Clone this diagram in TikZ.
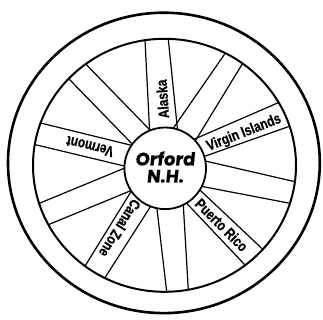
\documentclass[tikz,border=0pt]{standalone}
\usepackage{fontspec}
\setmainfont{Liberation Sans}
\newfontfamily\lblfont[FakeStretch=0.8, FakeBold=0.6]{Liberation Sans}
\newfontfamily\hubfont[FakeSlant=0.1, FakeBold=0.4]{Poppins}
\usetikzlibrary{calc}
\tikzset{
  spoke/.style={line width=1.2pt, black},
  lbl/.style={font=\lblfont\bfseries\fontsize{15}{15}\selectfont, inner sep=0pt},
}
\begin{document}
\begin{tikzpicture}[x=1pt,y=-1pt]
\useasboundingbox (0,0) rectangle (323,320);
\fill[white] (0,0) rectangle (323,320);
% outer tyre
\draw[line width=2.6pt] (163.9,162.9) ellipse [x radius=155.9pt, y radius=150.2pt];
% spokes
\begin{scope}
\clip (164.5,165.3) ellipse [x radius=131.5pt, y radius=126.5pt];
\foreach \a/\b/\c/\d in {
  149.3/125/145/40, 176.7/121.7/168.3/39.3,
  176.7/123.3/224/55, 198.3/136/242.7/63.3,
  200/136.7/278.3/102.7, 208.3/155/288.3/126.7,
  208.3/161.7/295/181.7, 203.3/186.7/290/203.3,
  201.7/191.7/261.7/248.3, 188.3/205/245/265,
  183.3/205/188.3/290, 156.7/206.7/166.7/291.7,
  148.3/210/106.7/275, 130/193.3/86.7/263.3,
  128.3/191.7/51.7/223.3, 120/170/43.3/201.7,
  120/165/36.7/145, 123.3/143.3/41.7/123.3,
  128.3/140/70/80, 146.7/126.7/86.7/65}
  \draw[spoke] ($(\a,\b)!-0.3!(\c,\d)$) -- ($(\a,\b)!1.3!(\c,\d)$);
\end{scope}
% rim
\draw[line width=2pt] (164.5,165.3) ellipse [x radius=131.5pt, y radius=126.5pt];
% hub
\fill[white] (165.2,168.3) circle [radius=40.8pt];
\draw[line width=1.8pt] (165.2,168.3) circle [radius=40.8pt];
\node[font=\hubfont\bfseries\fontsize{18}{18}\selectfont, align=center, inner sep=0pt] (hub) at (165,167) {Orford\\[-1pt]N.H.};
% labels
\node[lbl, rotate=94]   (alaska)  at (162.5,99)  {Alaska};
\node[lbl, rotate=21.5] (virgin)  at (244,133)   {Virgin Islands};
\node[lbl, rotate=-45]  (puerto)  at (221.7,225) {Puerto Rico};
\node[lbl, rotate=238]  (canal)   at (120,228.3) {Canal Zone};
\node[lbl, rotate=166.4] (vermont) at (90,146.5) {Vermont};
\end{tikzpicture}
\end{document}
